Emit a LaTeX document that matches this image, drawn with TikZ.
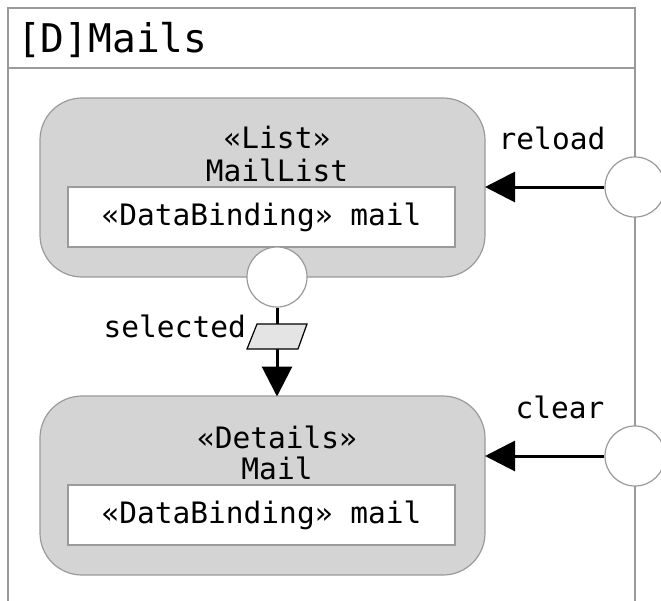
\documentclass[tikz,border=0pt]{standalone}
\usepackage{fontspec}
\newfontfamily\mono{DejaVu Sans Mono}
\usetikzlibrary{arrows.meta}
\definecolor{boxgray}{HTML}{D4D4D4}
\definecolor{edgegray}{HTML}{9A9A9A}
\definecolor{flowgray}{HTML}{E4E4E4}
\tikzset{
  txt/.style={font=\mono\fontsize{29.5}{34}\selectfont, inner sep=0pt},
  titletxt/.style={font=\mono\fontsize{39.5}{44}\selectfont, inner sep=0pt, anchor=west},
  viewbox/.style={draw=edgegray, line width=1.2pt, fill=boxgray, rounded corners=42pt, minimum width=445pt, minimum height=179pt, inner sep=0pt},
  bindbox/.style={draw=edgegray, line width=1.2pt, fill=white, minimum width=387pt, minimum height=60pt, inner sep=0pt, font=\mono\fontsize{29.5}{34}\selectfont},
  port/.style={circle, draw=edgegray, line width=1.2pt, fill=white, minimum size=60pt, inner sep=0pt},
  flow/.style={line width=3pt, -{Triangle[length=30pt,width=30pt]}},
}
\begin{document}
\begin{tikzpicture}[x=1pt,y=-1pt]
\useasboundingbox (0,0) rectangle (661,600);
\fill[white] (0,0) rectangle (661,600);
% frame
\draw[edgegray, line width=1.2pt] (8,630) -- (8,8) -- (635,8) -- (635,630);
\draw[edgegray, line width=1.2pt] (8,68) -- (635,68);
\node[titletxt] (title) at (17,40) {[D]Mails};
% box 1
\node[viewbox] (b1) at (262.5,187.5) {};
\node[txt] (s1) at (277,137) {«List»};
\node[txt] (n1) at (277,170) {MailList};
\node[bindbox] (d1) at (261.5,217) {«DataBinding» mail};
% box 2
\node[viewbox] (b2) at (262.5,485.5) {};
\node[txt] (s2) at (277,437) {«Details»};
\node[txt] (n2) at (277,468) {Mail};
\node[bindbox] (d2) at (261.5,515) {«DataBinding» mail};
% ports
\node[port] (pout) at (277,277) {};
\node[port] (preload) at (635,187) {};
\node[port] (pclear) at (635,456) {};
% connectors
\coordinate (t2) at (277,396.5);
\draw[flow] (pout.south) -- (t2);
\draw[line width=1.2pt, fill=flowgray] (257,324) -- (307,324) -- (298,349) -- (247,349) -- cycle;
\node[txt, anchor=east] (lsel) at (246,326) {selected};
\coordinate (t1) at (485,187);
\coordinate (t3) at (485,456);
\draw[flow] (preload.west) -- (t1);
\draw[flow] (pclear.west) -- (t3);
\node[txt] (lrel) at (552,138) {reload};
\node[txt] (lclr) at (560,407) {clear};
\end{tikzpicture}
\end{document}
